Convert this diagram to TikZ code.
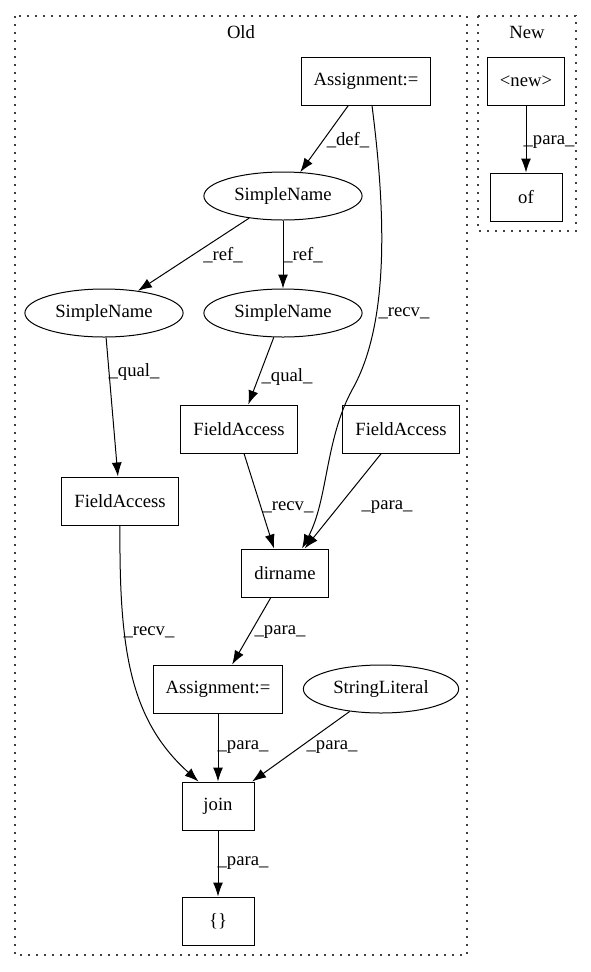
\documentclass[tikz,border=0pt]{standalone}
\usepackage{fontspec}
\setmainfont{Liberation Serif}
\usetikzlibrary{shapes.geometric,arrows.meta}
\begin{document}
\begin{tikzpicture}[x=0.75pt, y=-0.75pt, font=\fontsize{14}{16}\selectfont,
    box/.style={draw, line width=0.75pt, rectangle, minimum width=54pt, minimum height=36pt, inner xsep=9.4pt},
    oval/.style={draw, line width=0.75pt, ellipse, minimum height=36pt, inner xsep=5.4pt, inner ysep=0pt},
    arr/.style={line width=0.75pt, -{Latex[length=10.5pt,width=7.5pt]}},
    lbl/.style={inner sep=0pt},
    cluster/.style={draw, black!75, line width=0.9pt, dash pattern=on 1.2pt off 4.8pt}]
    \useasboundingbox (0,0) rectangle (591,972);
    \draw[cluster] (15,16) rectangle (467,955);
    \draw[cluster] (478,16) rectangle (576,231);
    \node (oldT) at (241,32) {Old};
    \node (newT) at (527,32) {New};

    \node[box] (assignTop) at (366,81) {Assignment:=};
    \node[oval] (nameTop) at (283,196) {SimpleName};
    \node[oval] (nameLeft) at (104,313) {SimpleName};
    \node[oval] (nameMid) at (283,313) {SimpleName};
    \node[box] (fieldMid) at (239,429) {FieldAccess};
    \node[box] (fieldRight) at (401,429) {FieldAccess};
    \node[box] (fieldLeft) at (120,501) {FieldAccess};
    \node[box] (dirname) at (285,573) {dirname};
    \node[box] (assignLow) at (218,689) {Assignment:=};
    \node[oval] (strLit) at (381,689) {StringLiteral};
    \node[box] (join) at (218,806) {join};
    \node[box] (braces) at (218,921) {\{\}};
    \node[box] (newNode) at (526,81) {<new>};
    \node[box] (ofNode) at (526,197) {of};

    \draw[arr] (assignTop) -- (nameTop) node[lbl, at={(348,140)}] {\_def\_};
    \draw[arr] ([xshift=4.5pt]assignTop.south) .. controls (384,200) and (392,320) .. (352,390)
        .. controls (325,440) and (328,500) .. ([xshift=12.75pt]dirname.north)
        node[lbl, at={(404,313)}] {\_recv\_};
    \draw[arr] (nameTop) -- (nameLeft) node[lbl, at={(223,255)}] {\_ref\_};
    \draw[arr] (nameTop) -- (nameMid) node[lbl, at={(303,255)}] {\_ref\_};
    \draw[arr] (nameLeft) -- (fieldLeft) node[lbl, at={(134,372)}] {\_qual\_};
    \draw[arr] (nameMid) -- (fieldMid) node[lbl, at={(287,377)}] {\_qual\_};
    \draw[arr] ([xshift=3.75pt]fieldMid.south) -- ([xshift=-8.25pt]dirname.north) node[lbl, at={(288,507)}] {\_recv\_};
    \draw[arr] (fieldRight) -- (dirname) node[lbl, at={(387,507)}] {\_para\_};
    \draw[arr] (fieldLeft.south) .. controls (119,650) and (130,720) .. ([xshift=-14.6pt]join.north)
        node[lbl, at={(149,632)}] {\_recv\_};
    \draw[arr] (dirname) -- (assignLow) node[lbl, at={(280,632)}] {\_para\_};
    \draw[arr] (assignLow) -- (join) node[lbl, at={(243,747)}] {\_para\_};
    \draw[arr] (strLit) -- (join) node[lbl, at={(332,747)}] {\_para\_};
    \draw[arr] (join) -- (braces) node[lbl, at={(243,863)}] {\_para\_};
    \draw[arr] (newNode) -- (ofNode) node[lbl, at={(549,142)}] {\_para\_};
\end{tikzpicture}
\end{document}
